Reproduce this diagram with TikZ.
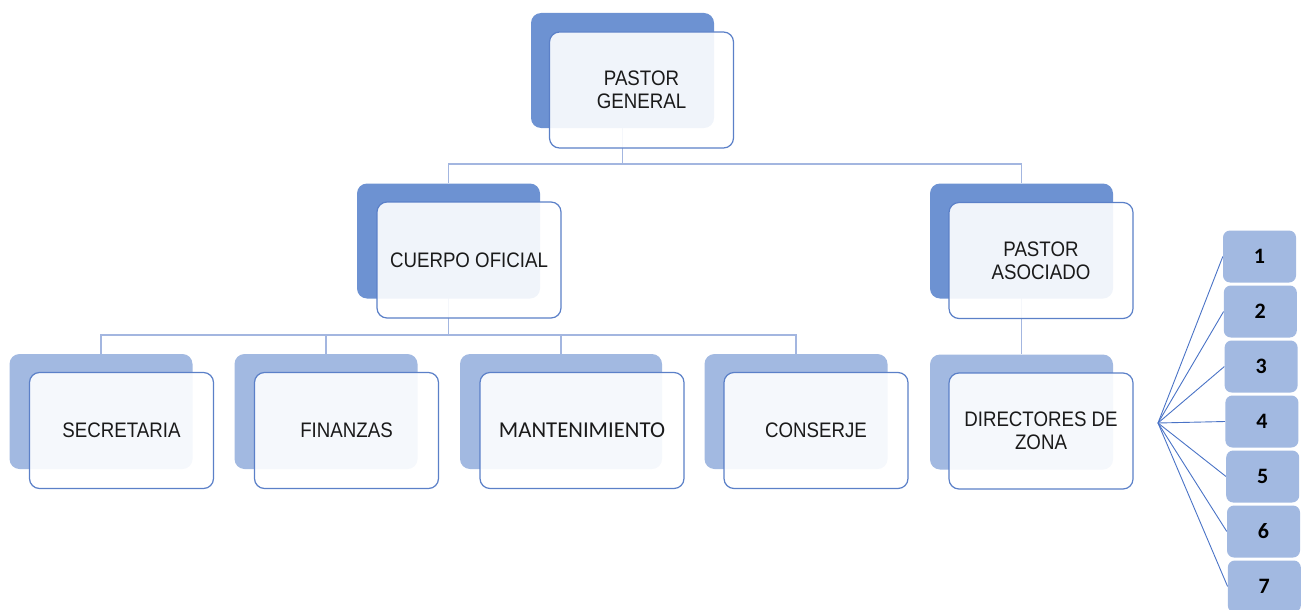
\documentclass[tikz,border=0pt]{standalone}
\usepackage{fontspec}
\setmainfont{Liberation Sans}[FakeStretch=0.89]
\newfontfamily\calib{Carlito}
\definecolor{deepblue}{HTML}{6D92D2}
\definecolor{paleblue}{HTML}{A2B9E1}
\definecolor{rimblue}{HTML}{5B80C8}
\definecolor{linkblue}{HTML}{A3B6E0}
\definecolor{fanblue}{HTML}{4A73C6}
\definecolor{ink}{HTML}{1A1A1A}
\pgfdeclarelayer{links}
\pgfsetlayers{links,main}
\begin{document}
\begin{tikzpicture}[x=1pt,y=-1pt,
  back/.style={rounded corners=10pt, inner sep=0pt, minimum width=183pt, minimum height=115pt},
  backdeep/.style={back, fill=deepblue},
  backpale/.style={back, fill=paleblue},
  front/.style={rounded corners=10pt, inner sep=0pt, minimum width=184pt, minimum height=116pt,
    draw=rimblue, line width=1.2pt, fill=white, fill opacity=0.9, text opacity=1,
    text=ink, align=center, font=\fontsize{21}{23}\selectfont},
  numbox/.style={rounded corners=7pt, inner sep=0pt, minimum width=73pt, minimum height=52pt,
    fill=paleblue, text=black, font=\calib\bfseries\fontsize{22}{24}\selectfont},
  link/.style={draw=linkblue, line width=1.5pt},
  fan/.style={draw=fanblue, line width=0.9pt}]
\useasboundingbox (0,0) rectangle (1306,610);
\clip (0,0) rectangle (1306,610);

% back plates
\node[backdeep] (pgb) at (622.5,70.5) {};
\node[backdeep] (cob) at (448.5,241) {};
\node[backdeep] (pab) at (1021.5,241) {};
\node[backpale] (seb) at (101,411.5) {};
\node[backpale] (fib) at (326,411.5) {};
\node[backpale, minimum width=202pt] (mab) at (561,411.5) {};
\node[backpale] (cnb) at (796,411.5) {};
\node[backpale] (dzb) at (1021.5,412) {};

% front cards
\node[front] (pg) at (641.5,90) {PASTOR\\GENERAL};
\node[front] (co) at (469,260) {CUERPO OFICIAL};
\node[front] (pa) at (1041,260.5) {PASTOR\\ASOCIADO};
\node[front] (se) at (121.5,430.5) {SECRETARIA};
\node[front] (fi) at (346.5,430.5) {FINANZAS};
\node[front, minimum width=204pt, font=\calib\fontsize{22.7}{25}\selectfont] (ma) at (582,430.5) {MANTENIMIENTO};
\node[front] (cn) at (816,430.5) {CONSERJE};
\node[front] (dz) at (1041,431) {DIRECTORES DE\\ZONA};

% number boxes
\foreach \i in {1,...,7}{
  \node[numbox] (n\i) at ({1259.5+(\i-1)*0.8},{256.5+(\i-1)*55}) {\i};
}

\coordinate (busA) at (0,164);
\coordinate (busB) at (0,335);
\coordinate (hub) at (1158,423);

% connectors, kept beneath the cards
\begin{pgfonlayer}{links}
\begin{scope}[link]
\draw (pgb.center) -- (pgb.center |- busA) -| (cob.north);
\draw (pgb.center |- busA) -| (pab.north);
\draw (cob.center) -- (cob.center |- busB) -| (seb.north);
\draw (cob.center |- busB) -| (fib.north);
\draw (cob.center |- busB) -| (mab.north);
\draw (cob.center |- busB) -| (cnb.north);
\draw (pab.center) -- (dzb.north);
\end{scope}
\foreach \i in {1,...,7}{ \draw[fan] (hub) -- (n\i.west); }
\end{pgfonlayer}
\end{tikzpicture}
\end{document}
